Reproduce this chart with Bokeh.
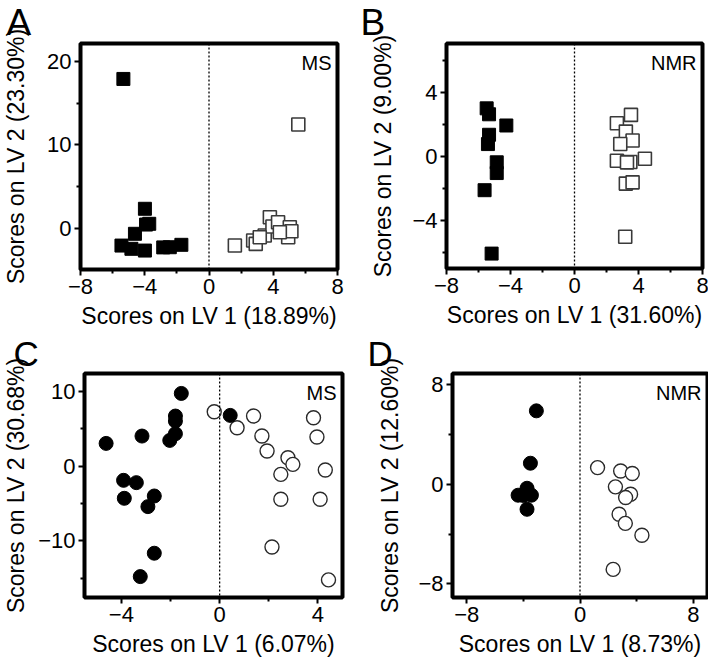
from bokeh.plotting import figure
from bokeh.layouts import column, row
from bokeh.models import Span, Label, FixedTicker
from bokeh.embed import file_html
from bokeh.resources import INLINE

FONT = "Liberation Sans"

# Panel A (MS, squares)
a_fill_x = [-5.33, -3.99, -3.72, -3.92, -4.61, -5.45, -4.83, -3.99, -2.85, -2.44, -1.72]
a_fill_y = [17.9, 2.33, 0.53, 0.44, -0.67, -2.08, -2.47, -2.68, -2.3, -2.28, -1.99]
a_open_x = [5.56, 1.61, 2.75, 2.91, 3.47, 3.79, 3.95, 4.30, 4.93, 5.03, 5.13, 4.41, 3.16]
a_open_y = [12.44, -2.08, -1.48, -1.88, -0.88, 1.32, 0.2, 0.72, -1.08, 0.12, -0.36, -0.48, -1.08]

# Panel B (NMR, squares)
b_fill_x = [-5.49, -5.34, -4.26, -5.34, -5.41, -4.86, -4.86, -5.62, -5.18]
b_fill_y = [3.0, 2.63, 1.93, 1.35, 0.77, -0.37, -1.04, -2.11, -6.07]
b_open_x = [3.53, 2.65, 3.21, 3.63, 2.86, 2.65, 3.49, 4.40, 3.28, 3.21, 3.63, 3.17]
b_open_y = [2.59, 2.07, 1.55, 0.99, 0.77, -0.27, -0.35, -0.15, -0.37, -1.70, -1.62, -5.02]

# Panel C (MS, circles)
c_fill_x = [-1.56, -1.80, -1.80, -1.80, -2.03, -3.16, -4.62, -3.91, -3.39, -3.88, -2.66, -2.92, -2.66, -3.23, 0.43]
c_fill_y = [9.69, 6.67, 6.0, 4.31, 3.42, 4.0, 3.02, -1.91, -2.22, -4.31, -4.0, -5.42, -11.64, -14.76, 6.76]
c_open_x = [-0.22, 1.38, 0.71, 1.72, 1.93, 2.78, 2.98, 2.49, 2.49, 2.13, 3.82, 3.96, 4.30, 4.09, 4.43]
c_open_y = [7.24, 6.67, 5.11, 4.0, 2.0, 1.11, 0.22, -1.11, -4.44, -10.8, 6.44, 3.87, -0.53, -4.44, -15.2]

# Panel D (NMR, circles)
d_fill_x = [-3.08, -3.50, -3.74, -4.37, -3.43, -3.74, -4.0]
d_fill_y = [5.9, 1.69, -0.32, -0.88, -0.88, -2.01, -0.9]
d_open_x = [1.24, 2.87, 3.69, 2.50, 3.57, 3.22, 2.76, 3.20, 4.37, 2.34]
d_open_y = [1.34, 1.07, 0.86, -0.21, -0.80, -1.07, -2.41, -3.14, -4.10, -6.84]

panels = [
    dict(letter="A", tag="MS", xlabel="Scores on LV 1 (18.89%)", ylabel="Scores on LV 2 (23.30%)",
         xr=(-8, 8), yr=(-4.95, 22.15), xt=[-8, -4, 0, 4, 8], xm=[-6, -2, 2, 6],
         yt=[0, 10, 20], ym=[-5, 5, 15], marker="square",
         fx=a_fill_x, fy=a_fill_y, ox=a_open_x, oy=a_open_y,
         bl=77, fw=257, br=20, bt=43, fh=226, bb=63, ys=15),
    dict(letter="B", tag="NMR", xlabel="Scores on LV 1 (31.60%)", ylabel="Scores on LV 2 (9.00%)",
         xr=(-8, 8), yr=(-7, 7.05), xt=[-8, -4, 0, 4, 8], xm=[-6, -2, 2, 6],
         yt=[-4, 0, 4], ym=[-6, -2, 2, 6], marker="square",
         fx=b_fill_x, fy=b_fill_y, ox=b_open_x, oy=b_open_y,
         bl=89, fw=256, br=9, bt=43, fh=225, bb=64, ys=13),
    dict(letter="C", tag="MS", xlabel="Scores on LV 1 (6.07%)", ylabel="Scores on LV 2 (30.68%)",
         xr=(-5.5, 5.0), yr=(-17.55, 12.35), xt=[-4, 0, 4], xm=[-2, 2],
         yt=[-10, 0, 10], ym=[-15, -5, 5], marker="circle",
         fx=c_fill_x, fy=c_fill_y, ox=c_open_x, oy=c_open_y,
         bl=74, fw=258, br=22, bt=41, fh=224, bb=67, ys=6),
    dict(letter="D", tag="NMR", xlabel="Scores on LV 1 (8.73%)", ylabel="Scores on LV 2 (12.60%)",
         xr=(-9, 9), yr=(-9.1, 8.9), xt=[-8, 0, 8], xm=[-4, 4],
         yt=[-8, 0, 8], ym=[-4, 4], marker="circle",
         fx=d_fill_x, fy=d_fill_y, ox=d_open_x, oy=d_open_y,
         bl=88, fw=255, br=11, bt=41, fh=224, bb=67, ys=12),
]


def letter_label(P):
    kw = dict(x=-P["bl"] + 3, y=P["bt"] - 1, x_units="screen", y_units="screen",
              text=P["letter"], text_align="left", text_baseline="top",
              text_font=FONT, text_color="black")
    return Label(text_font_size="%dpx" % int(P["bt"] / 1.16), **kw)


figs = []
for P in panels:
    p = figure(frame_width=P["fw"], frame_height=P["fh"], x_range=P["xr"], y_range=P["yr"],
               output_backend="svg", toolbar_location=None,
               min_border_left=P["bl"], min_border_right=P["br"],
               min_border_top=P["bt"], min_border_bottom=P["bb"])
    p.grid.visible = False
    p.outline_line_color = "black"
    p.outline_line_width = 4
    p.outline_line_alpha = 1
    p.xaxis.ticker = FixedTicker(ticks=P["xt"], minor_ticks=P["xm"])
    p.yaxis.ticker = FixedTicker(ticks=P["yt"], minor_ticks=P["ym"])
    for ax in (p.xaxis[0], p.yaxis[0]):
        ax.axis_line_width = 3
        ax.axis_line_color = "black"
        ax.major_tick_line_width = 2
        ax.major_tick_line_color = "black"
        ax.minor_tick_line_width = 2
        ax.minor_tick_line_color = "black"
        ax.major_tick_in = 0
        ax.major_tick_out = 6
        ax.minor_tick_in = 0
        ax.minor_tick_out = 4
        ax.major_label_text_font = FONT
        ax.major_label_text_font_size = "22px"
        ax.major_label_text_color = "black"
        ax.major_label_standoff = 3
        ax.axis_label_text_font = FONT
        ax.axis_label_text_font_size = "23px"
        ax.axis_label_text_font_style = "normal"
        ax.axis_label_text_color = "black"
        ax.axis_label_standoff = 6
    p.yaxis.axis_label_standoff = P["ys"]
    p.xaxis.axis_label = P["xlabel"]
    p.yaxis.axis_label = P["ylabel"]

    p.add_layout(Span(location=0, dimension="height", line_color="black",
                      line_dash="2 2", line_width=1.3))

    if P["marker"] == "square":
        p.scatter(P["ox"], P["oy"], marker="square", size=13, fill_color="white",
                  line_color="#3a3a3a", line_width=1.6)
        p.scatter(P["fx"], P["fy"], marker="square", size=13, fill_color="black",
                  line_color="black", line_width=1)
    else:
        p.scatter(P["ox"], P["oy"], marker="circle", size=14, fill_color="white",
                  line_color="#2a2a2a", line_width=1.4)
        p.scatter(P["fx"], P["fy"], marker="circle", size=14, fill_color="black",
                  line_color="black", line_width=1)

    p.add_layout(Label(x=P["fw"] - 6, y=P["fh"] - 8, x_units="screen", y_units="screen",
                       text=P["tag"], text_align="right", text_baseline="top",
                       text_font=FONT, text_font_size="20px", text_color="black"))
    p.add_layout(letter_label(P), "above")
    figs.append(p)

layout = column(row(figs[0], figs[1]), row(figs[2], figs[3]))
open("out.html", "w").write(file_html(layout, INLINE))
